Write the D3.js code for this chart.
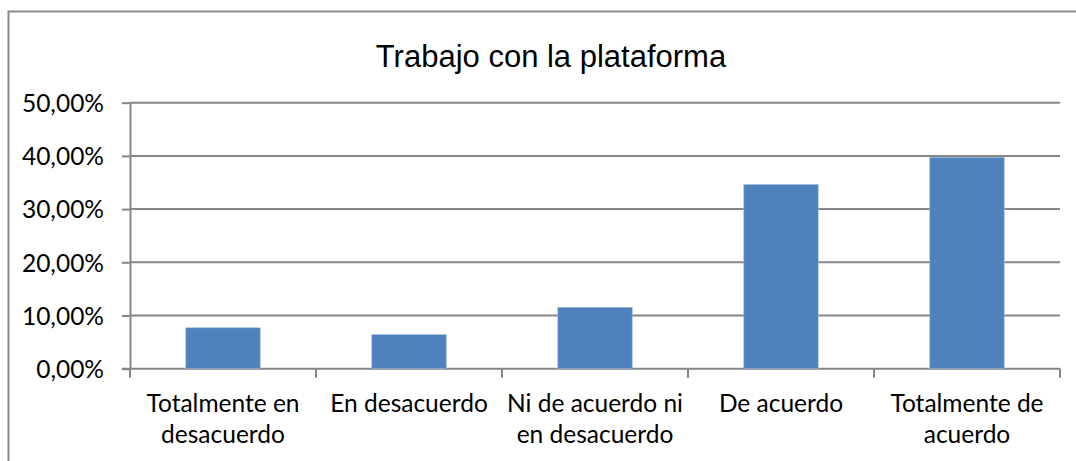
<!DOCTYPE html>
<html lang="es">
<head>
  <meta charset="UTF-8">
  <title>Trabajo con la plataforma</title>
  <style>
    body { margin: 0; background: #fff; }
    .bar { fill: #4F81BD; stroke: #9fb9da; stroke-width: 0.6; }
    .axis text { font-family: Lato, 'Open Sans', sans-serif; font-size: 24.5px; fill: #000; }
    .axis path, .axis line, .grid line { stroke: #868686; stroke-width: 2; }
  </style>
</head>
<body>
  <svg width="1076" height="461"></svg>
  <script src="https://cdn.jsdelivr.net/npm/d3@7"></script>
  <script>
    // data
    var categories = ['Totalmente en\ndesacuerdo', 'En desacuerdo', 'Ni de acuerdo ni\nen desacuerdo', 'De acuerdo', 'Totalmente de\nacuerdo']
    var values = [0.0769, 0.0641, 0.1154, 0.3462, 0.3974]
    var yTicks = [0, 0.1, 0.2, 0.3, 0.4, 0.5]
    var title = 'Trabajo con la plataforma'

    var svg = d3.select('svg')
    var plotLeft = 130, plotRight = 1060, plotTop = 102.7, plotBottom = 368.7

    // outer chart border (cropped on the right and bottom)
    svg.append('path')
      .attr('d', 'M8.5,470 V11.5 H1090')
      .attr('fill', 'none')
      .attr('stroke', '#8c8c8c')
      .attr('stroke-width', 2)

    svg.append('text')
      .attr('x', 551)
      .attr('y', 67)
      .attr('text-anchor', 'middle')
      .attr('font-family', "'Liberation Sans', Arial, sans-serif")
      .attr('font-size', '31px')
      .text(title)

    var x = d3.scaleBand().domain(categories).range([plotLeft, plotRight]).paddingInner(0.6).paddingOuter(0.3)
    var y = d3.scaleLinear().domain([0, 0.5]).range([plotBottom, plotTop])

    // gridlines
    svg.append('g')
      .attr('class', 'grid')
      .selectAll('line')
      .data(yTicks.slice(1))
      .enter()
      .append('line')
      .attr('x1', plotLeft)
      .attr('x2', plotRight)
      .attr('y1', function(d) { return y(d) })
      .attr('y2', function(d) { return y(d) })

    // y axis
    var yAxis = svg.append('g')
      .attr('class', 'axis')
      .attr('transform', 'translate(' + plotLeft + ',0)')
      .call(d3.axisLeft(y).tickValues(yTicks).tickSize(8).tickPadding(18).tickSizeOuter(0)
        .tickFormat(function(d) { return (d * 100).toFixed(2).replace('.', ',') + '%' }))
    yAxis.selectAll('text').attr('dy', '0.36em')

    // x axis: ticks at band boundaries
    var bounds = d3.range(categories.length + 1).map(function(i) {
      return plotLeft + i * (plotRight - plotLeft) / categories.length
    })
    var xAxis = svg.append('g').attr('class', 'axis')
    xAxis.append('line')
      .attr('x1', plotLeft - 8)
      .attr('x2', plotRight)
      .attr('y1', plotBottom)
      .attr('y2', plotBottom)
    xAxis.selectAll('.tk')
      .data(bounds)
      .enter()
      .append('line')
      .attr('class', 'tk')
      .attr('x1', function(d) { return d })
      .attr('x2', function(d) { return d })
      .attr('y1', plotBottom)
      .attr('y2', plotBottom + 9)

    var labels = xAxis.selectAll('.lbl')
      .data(categories)
      .enter()
      .append('text')
      .attr('class', 'lbl')
      .attr('text-anchor', 'middle')
      .attr('transform', function(d) {
        return 'translate(' + (x(d) + x.bandwidth() / 2) + ',' + (plotBottom + 43) + ')'
      })
    labels.selectAll('tspan')
      .data(function(d) { return d.split('\n') })
      .enter()
      .append('tspan')
      .attr('x', 0)
      .attr('y', function(d, i) { return i * 31.6 })
      .text(function(d) { return d })

    // bars
    svg.selectAll('.bar')
      .data(values)
      .enter()
      .append('rect')
      .attr('class', 'bar')
      .attr('x', function(d, i) { return x(categories[i]) })
      .attr('y', function(d) { return y(d) })
      .attr('width', x.bandwidth())
      .attr('height', function(d) { return plotBottom - y(d) })
  </script>
</body>
</html>
